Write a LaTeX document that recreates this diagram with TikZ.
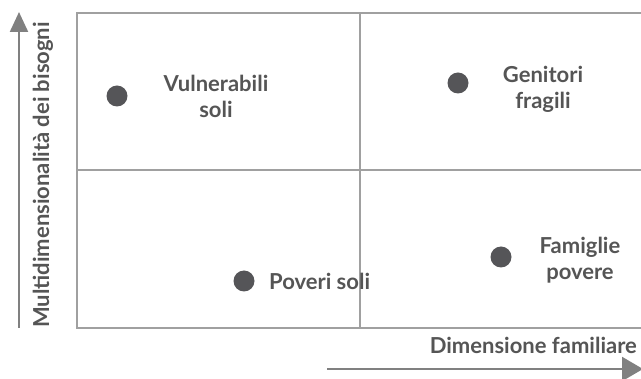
\documentclass[tikz,border=0pt]{standalone}
\usepackage{fontspec}
\setmainfont{Lato}[UprightFont=* Bold]
\usetikzlibrary{arrows.meta}
\definecolor{boxgray}{HTML}{A0A0A0}
\definecolor{axisgray}{HTML}{808080}
\definecolor{txtgray}{HTML}{555555}
\definecolor{dotgray}{HTML}{555558}
\begin{document}
\begin{tikzpicture}[x=1pt,y=-1pt,
  grid/.style={draw=boxgray,line width=2pt},
  axis/.style={draw=axisgray,line width=2.2pt,-{Triangle[length=20pt,width=18pt]}},
  dot/.style={circle,fill=dotgray,minimum size=21pt,inner sep=0pt},
  lbl/.style={text=txtgray,font=\fontsize{22}{26}\selectfont,align=center,inner sep=0pt},
]
\useasboundingbox (0,0) rectangle (641,379);
\begin{scope}
\clip (0,0) rectangle (641,379);
\draw[grid] (77,13) rectangle (660,328);
\draw[grid] (360,13) -- (360,328);
\draw[grid] (77,170) -- (660,170);
\end{scope}
% axes
\coordinate (ybot) at (19,328);
\coordinate (ytop) at (19,12);
\draw[axis] (ybot) -- (ytop);
\coordinate (xl) at (327,369);
\coordinate (xr) at (643,369);
\draw[axis,-{Triangle[length=21pt,width=24pt]}] (xl) -- (xr);
\node[lbl,rotate=90] (ylab) at (43,175) {Multidimensionalità dei bisogni};
\node[lbl,anchor=east] (xlab) at (637,345) {Dimensione familiare};
% dots
\node[dot] (d1) at (117,96) {};
\node[dot] (d2) at (458,83) {};
\node[dot] (d3) at (244,281) {};
\node[dot] (d4) at (501,257) {};
\node[lbl] (t1) at (216,96) {Vulnerabili\\soli};
\node[lbl] (t2) at (543,89) {Genitori\\fragili};
\node[lbl] (t3) at (580,260) {Famiglie\\povere};
\node[lbl,anchor=west] (t4) at (269,281) {Poveri soli};
\end{tikzpicture}
\end{document}
